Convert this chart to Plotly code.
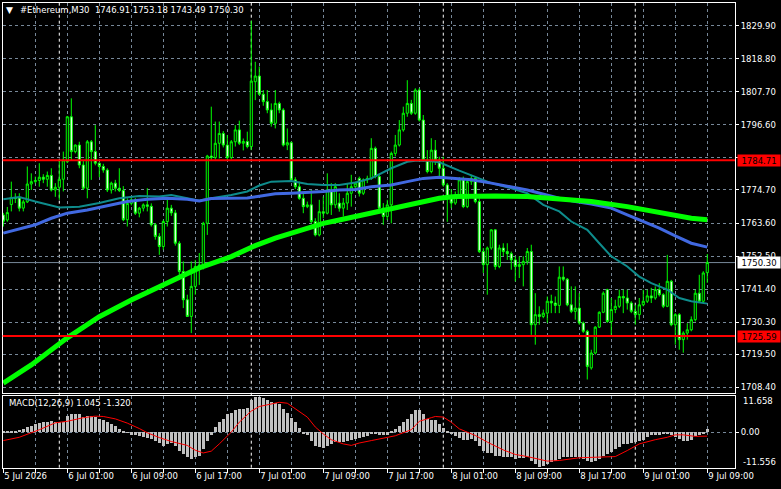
import plotly.graph_objects as go
import pandas as pd

W, H = 781, 489

# ---------------- data ----------------
symbol_title = "#Ethereum,M30\u00a0\u00a01746.91 1753.18 1743.49 1750.30"
macd_title = "MACD(12,26,9) 1.045 -1.320"

start = pd.Timestamp("2026-07-05 17:00")
n_bars = 177
times = pd.date_range(start, periods=n_bars, freq="30min")

opens = [1766.3, 1764.6, 1769.8, 1772.2, 1772.0, 1768.6, 1770.7, 1776.7, 1777.5, 1777.9,
         1779.0, 1778.3, 1779.6, 1774.7, 1775.6, 1778.3, 1784.2, 1799.3, 1787.6, 1789.8,
         1783.1, 1775.3, 1790.9, 1787.6, 1783.7, 1782.6, 1781.4, 1774.7, 1777.0, 1775.3,
         1774.5, 1764.7, 1770.2, 1771.4, 1766.9, 1768.6, 1769.7, 1769.2, 1763.0, 1759.1,
         1755.7, 1764.1, 1768.6, 1767.0, 1756.8, 1747.3, 1737.8, 1732.2, 1742.3, 1749.0,
         1749.5, 1763.5, 1786.1, 1785.6, 1790.4, 1793.7, 1789.8, 1785.6, 1790.9, 1794.9,
         1790.4, 1791.0, 1789.3, 1811.1, 1813.0, 1806.9, 1804.4, 1801.6, 1797.1, 1803.8,
         1801.6, 1789.8, 1790.6, 1778.1, 1775.8, 1771.9, 1769.1, 1769.7, 1764.1, 1759.6,
         1767.4, 1766.9, 1774.7, 1769.7, 1770.3, 1768.6, 1770.3, 1773.6, 1775.8, 1778.6,
         1773.6, 1778.1, 1778.6, 1788.7, 1779.2, 1768.6, 1765.8, 1769.7, 1787.0, 1789.8,
         1794.9, 1800.5, 1803.8, 1800.5, 1808.3, 1798.2, 1784.8, 1780.9, 1788.1, 1784.8,
         1782.0, 1776.4, 1772.5, 1770.3, 1772.5, 1778.1, 1769.1, 1777.5, 1778.6, 1770.8,
         1754.0, 1749.6, 1755.2, 1761.3, 1749.0, 1755.2, 1754.0, 1753.3, 1751.2, 1749.0,
         1749.6, 1750.7, 1754.0, 1729.4, 1732.8, 1732.2, 1733.3, 1737.3, 1736.7, 1735.9,
         1745.4, 1744.7, 1736.1, 1733.9, 1735.0, 1730.0, 1727.2, 1714.9, 1719.9, 1728.6,
         1733.6, 1741.2, 1730.5, 1734.5, 1735.6, 1738.9, 1738.4, 1736.7, 1733.9, 1732.8,
         1736.1, 1737.3, 1739.1, 1738.4, 1741.2, 1739.5, 1735.6, 1744.0, 1729.4, 1732.8,
         1724.4, 1726.6, 1727.7, 1731.1, 1740.0, 1737.3, 1746.91]
highs = [1767.0, 1769.0, 1777.5, 1773.6, 1773.6, 1771.4, 1782.6, 1780.3, 1779.2, 1783.7,
         1780.0, 1780.9, 1782.0, 1777.0, 1784.8, 1787.6, 1799.6, 1805.5, 1790.0, 1790.9,
         1784.8, 1791.5, 1791.5, 1796.5, 1784.0, 1783.5, 1782.0, 1777.5, 1778.1, 1782.0,
         1776.0, 1771.9, 1772.0, 1772.0, 1769.0, 1770.2, 1775.3, 1770.2, 1763.6, 1760.2,
         1764.7, 1771.9, 1769.7, 1768.0, 1757.5, 1750.7, 1739.5, 1750.7, 1751.2, 1753.5,
         1764.0, 1786.5, 1802.7, 1797.7, 1797.7, 1794.5, 1793.2, 1791.5, 1796.5, 1798.0,
         1792.0, 1794.3, 1831.6, 1817.8, 1816.2, 1808.3, 1808.3, 1803.8, 1808.3, 1804.4,
         1802.2, 1795.4, 1791.0, 1779.0, 1777.5, 1773.6, 1770.8, 1774.7, 1765.2, 1771.4,
         1772.5, 1780.3, 1777.0, 1777.0, 1773.6, 1772.0, 1777.0, 1779.8, 1777.5, 1779.2,
         1778.6, 1779.5, 1792.1, 1789.3, 1780.3, 1770.3, 1771.4, 1787.6, 1793.2, 1798.2,
         1802.7, 1811.6, 1805.0, 1808.9, 1808.9, 1799.9, 1788.1, 1792.1, 1791.5, 1785.9,
         1785.9, 1777.0, 1775.0, 1774.2, 1779.0, 1779.2, 1778.6, 1779.8, 1779.2, 1771.9,
         1755.2, 1755.7, 1761.5, 1761.5, 1756.3, 1756.8, 1756.8, 1754.0, 1752.4, 1752.4,
         1752.4, 1755.2, 1756.3, 1740.0, 1735.6, 1734.5, 1738.9, 1739.5, 1738.9, 1749.0,
         1749.0, 1745.1, 1742.3, 1742.3, 1740.0, 1730.5, 1727.7, 1721.0, 1728.9, 1733.9,
         1740.6, 1741.5, 1738.4, 1737.8, 1741.2, 1741.2, 1741.2, 1737.3, 1736.1, 1738.4,
         1741.2, 1741.2, 1741.8, 1742.3, 1743.4, 1740.0, 1752.9, 1744.5, 1733.3, 1733.3,
         1727.2, 1729.9, 1732.2, 1741.2, 1746.2, 1747.4, 1753.18]
lows = [1762.4, 1764.0, 1767.5, 1770.3, 1767.5, 1767.5, 1770.3, 1774.7, 1776.9, 1775.8,
        1777.0, 1775.8, 1774.2, 1772.4, 1771.4, 1774.2, 1783.7, 1784.8, 1787.0, 1782.0,
        1774.7, 1771.9, 1778.1, 1783.0, 1779.0, 1780.5, 1774.0, 1773.5, 1774.2, 1774.0,
        1764.2, 1762.4, 1769.5, 1766.3, 1765.5, 1767.5, 1767.5, 1762.4, 1758.0, 1752.9,
        1754.6, 1762.4, 1766.0, 1756.0, 1746.0, 1735.0, 1732.0, 1726.6, 1739.5, 1742.8,
        1748.0, 1759.6, 1784.8, 1785.0, 1785.3, 1789.0, 1784.8, 1785.0, 1789.3, 1789.8,
        1788.0, 1788.7, 1788.1, 1804.9, 1806.5, 1803.0, 1800.5, 1796.0, 1795.4, 1800.5,
        1789.3, 1788.1, 1777.5, 1775.0, 1771.4, 1766.9, 1768.6, 1763.5, 1759.1, 1759.1,
        1765.2, 1766.5, 1766.3, 1768.6, 1767.4, 1765.8, 1768.0, 1769.1, 1775.0, 1772.5,
        1773.0, 1777.0, 1778.1, 1778.6, 1768.0, 1763.0, 1764.6, 1763.5, 1786.0, 1789.3,
        1794.3, 1799.3, 1799.9, 1800.0, 1797.7, 1784.2, 1780.3, 1780.3, 1783.1, 1778.6,
        1775.8, 1764.0, 1768.6, 1769.7, 1771.9, 1768.6, 1768.6, 1776.4, 1770.2, 1753.5,
        1746.8, 1739.5, 1754.6, 1747.9, 1748.4, 1752.4, 1751.2, 1747.9, 1743.95, 1745.1,
        1742.3, 1749.6, 1726.0, 1722.7, 1729.4, 1731.6, 1730.0, 1733.3, 1733.3, 1733.3,
        1744.0, 1735.6, 1733.3, 1731.1, 1729.4, 1726.6, 1711.0, 1714.3, 1719.4, 1728.3,
        1733.3, 1730.0, 1726.0, 1733.3, 1735.0, 1733.3, 1734.5, 1733.3, 1729.4, 1731.1,
        1735.6, 1736.7, 1736.7, 1737.8, 1738.9, 1735.0, 1735.3, 1728.9, 1722.7, 1721.0,
        1720.0, 1724.4, 1727.2, 1730.5, 1736.7, 1736.7, 1743.49]
closes = [1764.2, 1767.1, 1772.2, 1771.8, 1768.6, 1770.7, 1776.7, 1777.5, 1777.9, 1779.0,
          1778.3, 1779.6, 1774.7, 1775.6, 1778.3, 1784.8, 1799.3, 1787.6, 1789.8, 1783.1,
          1775.3, 1790.9, 1787.6, 1783.7, 1782.6, 1781.4, 1774.7, 1777.0, 1775.3, 1774.5,
          1764.7, 1770.2, 1771.4, 1766.9, 1768.6, 1769.7, 1769.2, 1763.0, 1759.1, 1755.7,
          1764.1, 1768.6, 1767.0, 1756.8, 1747.3, 1737.8, 1732.2, 1742.3, 1749.0, 1749.5,
          1763.5, 1786.1, 1785.6, 1790.4, 1793.7, 1789.8, 1785.6, 1790.9, 1794.9, 1790.4,
          1791.0, 1789.3, 1811.3, 1813.0, 1806.9, 1804.4, 1801.6, 1797.1, 1803.8, 1801.6,
          1789.8, 1790.6, 1778.1, 1775.8, 1771.9, 1769.1, 1769.7, 1764.1, 1759.6, 1767.4,
          1766.9, 1774.7, 1769.7, 1775.8, 1768.6, 1770.3, 1773.6, 1775.8, 1777.0, 1773.6,
          1778.1, 1778.6, 1788.7, 1779.2, 1768.6, 1765.8, 1769.7, 1787.0, 1789.8, 1794.9,
          1800.5, 1803.8, 1800.5, 1808.3, 1798.2, 1784.8, 1780.9, 1788.1, 1784.8, 1782.0,
          1776.4, 1772.5, 1770.3, 1772.5, 1778.1, 1769.1, 1777.5, 1778.6, 1770.8, 1754.0,
          1749.6, 1755.2, 1761.3, 1749.0, 1755.2, 1754.0, 1753.3, 1751.2, 1749.0, 1749.6,
          1750.7, 1754.0, 1729.4, 1732.8, 1732.2, 1733.3, 1737.3, 1736.7, 1735.9, 1745.4,
          1744.7, 1736.1, 1733.9, 1735.0, 1730.0, 1727.2, 1715.4, 1719.9, 1728.6, 1733.6,
          1740.0, 1730.5, 1734.5, 1735.6, 1738.9, 1738.4, 1736.7, 1733.9, 1732.8, 1736.1,
          1737.3, 1739.1, 1738.4, 1741.2, 1739.5, 1735.6, 1744.0, 1729.4, 1732.8, 1724.4,
          1726.6, 1727.7, 1731.1, 1740.0, 1737.3, 1746.8, 1750.30]

# moving averages (bar index, value)
ma_teal_idx = [0, 4, 8, 11, 14, 19, 24, 29, 34, 39, 42, 46, 49, 52, 57, 61, 64, 67, 72, 76,
               80, 84, 88, 92, 97, 101, 103, 106, 109, 114, 118, 122, 127, 131, 135, 139,
               142, 146, 149, 152, 156, 159, 162, 166, 169, 172, 176]
ma_teal_val = [1771.6, 1772.3, 1770.8, 1769.7, 1768.8, 1769.1, 1770.3, 1771.9, 1772.7, 1772.5,
               1773.0, 1771.9, 1771.1, 1771.9, 1773.0, 1774.2, 1776.2, 1777.5, 1777.7, 1776.7,
               1776.4, 1776.4, 1777.2, 1778.6, 1782.0, 1784.2, 1784.5, 1784.5, 1784.0, 1781.2,
               1779.2, 1777.0, 1775.3, 1773.6, 1769.7, 1767.5, 1764.1, 1761.3, 1756.8, 1752.4,
               1749.0, 1745.6, 1743.4, 1741.2, 1738.4, 1737.3, 1736.5]
ma_blue_idx = [0, 8, 12, 16, 21, 26, 31, 36, 41, 46, 49, 52, 57, 61, 64, 68, 72, 76, 80, 84,
               88, 92, 97, 101, 105, 109, 113, 117, 122, 127, 131, 139, 143, 147, 152, 156,
               160, 164, 168, 172, 176]
ma_blue_val = [1760.2, 1763.0, 1765.2, 1766.9, 1768.0, 1769.4, 1770.8, 1771.6, 1771.9, 1771.6,
               1771.0, 1771.8, 1771.9, 1772.0, 1772.6, 1773.4, 1773.6, 1773.8, 1774.2, 1774.7,
               1774.9, 1775.8, 1776.4, 1777.5, 1778.6, 1779.0, 1778.6, 1778.1, 1777.0, 1775.8,
               1774.7, 1771.9, 1770.8, 1770.0, 1768.6, 1766.3, 1764.1, 1761.9, 1759.3, 1756.8,
               1755.5]
ma_green_idx = [0, 7, 16, 24, 32, 41, 49, 57, 63, 68, 72, 76, 80, 84, 88, 92, 97, 101, 105,
                109, 113, 118, 123, 131, 139, 147, 156, 164, 172, 176]
ma_green_val = [1709.8, 1715.9, 1725.0, 1732.1, 1737.7, 1743.4, 1748.5, 1752.3, 1756.0, 1758.5,
                1760.2, 1761.9, 1763.5, 1764.6, 1765.8, 1766.9, 1768.2, 1769.7, 1770.8, 1771.9,
                1772.5, 1772.7, 1772.7, 1772.5, 1771.7, 1770.8, 1769.1, 1767.1, 1765.2, 1764.7]

macd_hist = [0.3, 0.4, 0.3, 0.5, 0.8, 1.2, 1.6, 2.0, 2.6, 3.0,
             3.3, 3.5, 3.6, 3.5, 3.3, 3.4, 5.2, 5.9, 6.1, 5.9,
             5.0, 5.2, 5.2, 5.0, 4.5, 3.9, 3.3, 2.8, 1.9, 1.1,
             0.3, -0.1, -0.8, -1.1, -1.4, -1.7, -1.9, -2.2, -2.8, -3.7,
             -4.5, -3.9, -3.7, -4.5, -6.1, -7.2, -8.4, -8.9, -8.4, -7.8,
             -5.6, -2.8, -0.8, 1.7, 3.3, 4.5, 5.9, 6.4, 7.2, 7.6,
             7.8, 8.1, 10.8, 11.5, 11.658, 11.3, 10.8, 10.0, 9.7, 9.3,
             7.8, 6.4, 4.8, 3.3, 1.4, -0.3, -1.1, -2.8, -4.5, -5.0,
             -5.2, -4.5, -3.9, -3.3, -3.3, -3.3, -2.8, -2.6, -2.2, -2.0,
             -1.7, -1.4, -0.3, -0.6, -1.1, -1.1, -0.9, 0.5, 0.9, 2.2,
             3.3, 4.5, 6.1, 7.2, 7.2, 5.9, 4.5, 4.1, 4.1, 2.8,
             1.4, 0.1, -0.3, -1.4, -1.9, -2.6, -2.6, -2.2, -2.8, -4.5,
             -6.4, -7.0, -7.0, -7.9, -7.9, -8.1, -8.4, -8.4, -8.9, -8.7,
             -8.7, -8.4, -9.5, -10.6, -11.556, -11.2, -10.6, -10.0, -9.5, -8.9,
             -8.4, -8.1, -8.1, -8.1, -8.4, -8.9, -9.7, -10.0, -9.7, -8.9,
             -7.8, -7.2, -6.7, -5.6, -4.8, -3.9, -3.9, -3.7, -3.3, -2.8,
             -2.6, -1.7, -1.1, -0.8, -0.8, -0.6, -0.3, -0.8, -1.7, -2.2,
             -2.8, -2.8, -2.6, -1.4, -1.1, -0.3, 1.045]
signal_idx = [0, 4, 9, 13, 16, 20, 23, 25, 28, 31, 34, 36, 39, 42, 46, 48, 50, 52, 54, 57,
              59, 62, 64, 67, 69, 71, 73, 76, 78, 80, 82, 85, 87, 89, 92, 96, 98, 102, 104,
              107, 108, 110, 112, 114, 118, 121, 125, 128, 131, 136, 139, 144, 149, 153, 156,
              159, 163, 166, 168, 170, 173, 175, 176]
signal_val = [-2.8, -1.7, 0.8, 3.1, 3.6, 4.8, 5.3, 5.2, 4.4, 3.0, 1.2, -0.2, -1.8, -3.1, -4.4,
              -6.0, -6.9, -6.3, -3.9, 0.0, 3.3, 7.0, 8.5, 9.4, 9.9, 9.6, 7.7, 5.0, 1.7, -0.6,
              -2.5, -3.9, -4.4, -3.6, -2.8, -1.9, -1.2, 0.8, 3.6, 4.8, 5.2, 5.0, 3.3, 1.1,
              -1.1, -3.3, -5.9, -7.4, -8.1, -9.6, -9.4, -8.5, -8.3, -8.1, -6.1, -3.9, -2.5,
              -1.7, -0.9, -0.9, -1.4, -1.4, -1.32]

level_high = 1784.71
level_low = 1725.59
bid_price = 1750.30

price_ticks = [1829.90, 1818.80, 1807.70, 1796.60, 1785.50, 1774.70, 1763.60,
               1752.50, 1741.40, 1730.30, 1719.50, 1708.40]
price_tick_text = ["1829.90", "1818.80", "1807.70", "1796.60", "", "1774.70", "1763.60",
                   "1752.50", "1741.40", "1730.30", "1719.50", "1708.40"]
macd_max_label = "11.658"
macd_min_label = "-11.556"

grid_idx = list(range(0, 177, 8))
label_idx = [0, 16, 32, 48, 64, 80, 96, 112, 128, 144, 160, 176]
label_text = ["5 Jul 2026", "6 Jul 01:00", "6 Jul 09:00", "6 Jul 17:00", "7 Jul 01:00",
              "7 Jul 09:00", "7 Jul 17:00", "8 Jul 01:00", "8 Jul 09:00", "8 Jul 17:00",
              "9 Jul 01:00", "9 Jul 09:00"]
day_sep_idx = [14, 62, 110, 158]

# ---------------- layout helpers ----------------
def px_x(p):
    return p / W

def px_y(p):
    return 1 - p / H

FONT = "DejaVu Sans"
FS = 8.5
GRID = "#778899"
LIME = "#00FF00"

def t_at(i):
    return start + pd.Timedelta(minutes=30 * i)

x_range = [t_at(-0.15), t_at(182.93)]
x_dom = [px_x(2.7), px_x(735)]
main_dom = [px_y(392.7), px_y(2.7)]
macd_dom = [px_y(467.7), px_y(396)]

fig = go.Figure()

fig.add_trace(go.Candlestick(
    x=times, open=opens, high=highs, low=lows, close=closes,
    increasing=dict(line=dict(color=LIME, width=1), fillcolor="black"),
    decreasing=dict(line=dict(color=LIME, width=1), fillcolor="white"),
    whiskerwidth=0, showlegend=False, hoverinfo="skip",
    xaxis="x", yaxis="y"))

fig.add_trace(go.Scatter(x=[times[i] for i in ma_teal_idx], y=ma_teal_val, mode="lines",
                         line=dict(color="#0E8C8C", width=2), showlegend=False,
                         hoverinfo="skip", xaxis="x", yaxis="y"))
fig.add_trace(go.Scatter(x=[times[i] for i in ma_blue_idx], y=ma_blue_val, mode="lines",
                         line=dict(color="#4169E1", width=3), showlegend=False,
                         hoverinfo="skip", xaxis="x", yaxis="y"))
fig.add_trace(go.Scatter(x=[times[i] for i in ma_green_idx], y=ma_green_val, mode="lines",
                         line=dict(color=LIME, width=5), showlegend=False,
                         hoverinfo="skip", xaxis="x", yaxis="y"))

fig.add_trace(go.Bar(x=times, y=macd_hist, width=0.65 * 30 * 60 * 1000,
                     marker=dict(color="#C0C0C0", line=dict(width=0)),
                     showlegend=False, hoverinfo="skip", xaxis="x2", yaxis="y2"))
fig.add_trace(go.Scatter(x=[times[i] for i in signal_idx], y=signal_val, mode="lines",
                         line=dict(color="#FF0000", width=1), showlegend=False,
                         hoverinfo="skip", xaxis="x2", yaxis="y2"))

axis_font = dict(family=FONT, size=FS, color="white")

fig.update_layout(
    width=W, height=H, margin=dict(l=0, r=0, t=0, b=0, autoexpand=False),
    paper_bgcolor="black", plot_bgcolor="black",
    showlegend=False, bargap=0, boxgap=0.25,
    xaxis=dict(domain=x_dom, range=x_range, anchor="y", type="date", automargin=False,
               tickvals=[times[i] for i in grid_idx], showticklabels=False, ticks="",
               showgrid=True, gridcolor=GRID, griddash="3px,3px", gridwidth=1,
               showline=True, mirror=True, linecolor="white", linewidth=1,
               rangeslider=dict(visible=False), zeroline=False, fixedrange=True),
    yaxis=dict(domain=main_dom, range=[1706.56, 1837.65], anchor="x", side="right",
               automargin=False,
               tickvals=price_ticks, ticktext=price_tick_text, tickfont=axis_font,
               ticks="outside", ticklen=3, tickcolor="white",
               showgrid=True, gridcolor=GRID, griddash="3px,3px", gridwidth=1,
               showline=True, mirror=True, linecolor="white", linewidth=1,
               zeroline=False, fixedrange=True),
    xaxis2=dict(domain=x_dom, range=x_range, anchor="y2", type="date", matches="x",
                automargin=False,
                tickvals=[times[i] for i in grid_idx],
                ticktext=[label_text[label_idx.index(i)] if i in label_idx else ""
                          for i in grid_idx],
                tickfont=axis_font, ticks="outside", ticklen=4, tickcolor="white",
                ticklabelposition="outside right",
                showgrid=True, gridcolor=GRID, griddash="3px,3px", gridwidth=1,
                showline=True, mirror=True, linecolor="white", linewidth=1,
                zeroline=False, fixedrange=True),
    yaxis2=dict(domain=macd_dom, range=[-11.79, 11.99], anchor="x2", side="right",
                automargin=False,
                tickvals=[0], ticktext=["0.00"], tickfont=axis_font,
                ticks="outside", ticklen=3, tickcolor="white",
                showgrid=True, gridcolor=GRID, griddash="3px,3px", gridwidth=1,
                showline=True, mirror=True, linecolor="white", linewidth=1,
                zeroline=False, fixedrange=True),
)

shapes = []
for i in day_sep_idx:
    shapes.append(dict(type="line", xref="x", yref="paper", x0=times[i], x1=times[i],
                       y0=px_y(467.7), y1=px_y(2.7), layer="below",
                       line=dict(color="white", width=1, dash="3px,3px")))
shapes.append(dict(type="line", xref="x domain", yref="y", x0=0, x1=1, y0=bid_price,
                   y1=bid_price, layer="below", line=dict(color=GRID, width=1)))
for lv in (level_high, level_low):
    shapes.append(dict(type="line", xref="x domain", yref="y", x0=0, x1=1, y0=lv, y1=lv,
                       layer="above", line=dict(color="#FF0000", width=2)))
fig.update_layout(shapes=shapes)

ann = []
ann.append(dict(text="\u25BC", x=px_x(9.5), y=px_y(10), xref="paper", yref="paper",
                xanchor="center", yanchor="middle", showarrow=False,
                font=dict(family=FONT, size=9, color="white")))
ann.append(dict(text=symbol_title, x=px_x(18), y=px_y(10), xref="paper", yref="paper",
                xanchor="left", yanchor="middle", showarrow=False, font=axis_font))
ann.append(dict(text=macd_title, x=px_x(7), y=px_y(403), xref="paper", yref="paper",
                xanchor="left", yanchor="middle", showarrow=False, font=axis_font))
for lv, bg, fg in ((level_high, "#FF0000", "black"), (level_low, "#FF0000", "black"),
                   (bid_price, "white", "black")):
    ann.append(dict(text=f"{lv:.2f}", x=px_x(737), y=lv, xref="paper", yref="y",
                    xanchor="left", yanchor="middle", showarrow=False, bgcolor=bg,
                    width=40, height=9, borderpad=1, align="center",
                    font=dict(family=FONT, size=FS, color=fg)))
ann.append(dict(text=macd_max_label, x=px_x(741), y=px_y(401), xref="paper", yref="paper",
                xanchor="left", yanchor="middle", showarrow=False, font=axis_font))
ann.append(dict(text=macd_min_label, x=px_x(741), y=px_y(461.7), xref="paper", yref="paper",
                xanchor="left", yanchor="middle", showarrow=False, font=axis_font))
fig.update_layout(annotations=ann)

fig.write_html("out.html", config={"displayModeBar": False})
